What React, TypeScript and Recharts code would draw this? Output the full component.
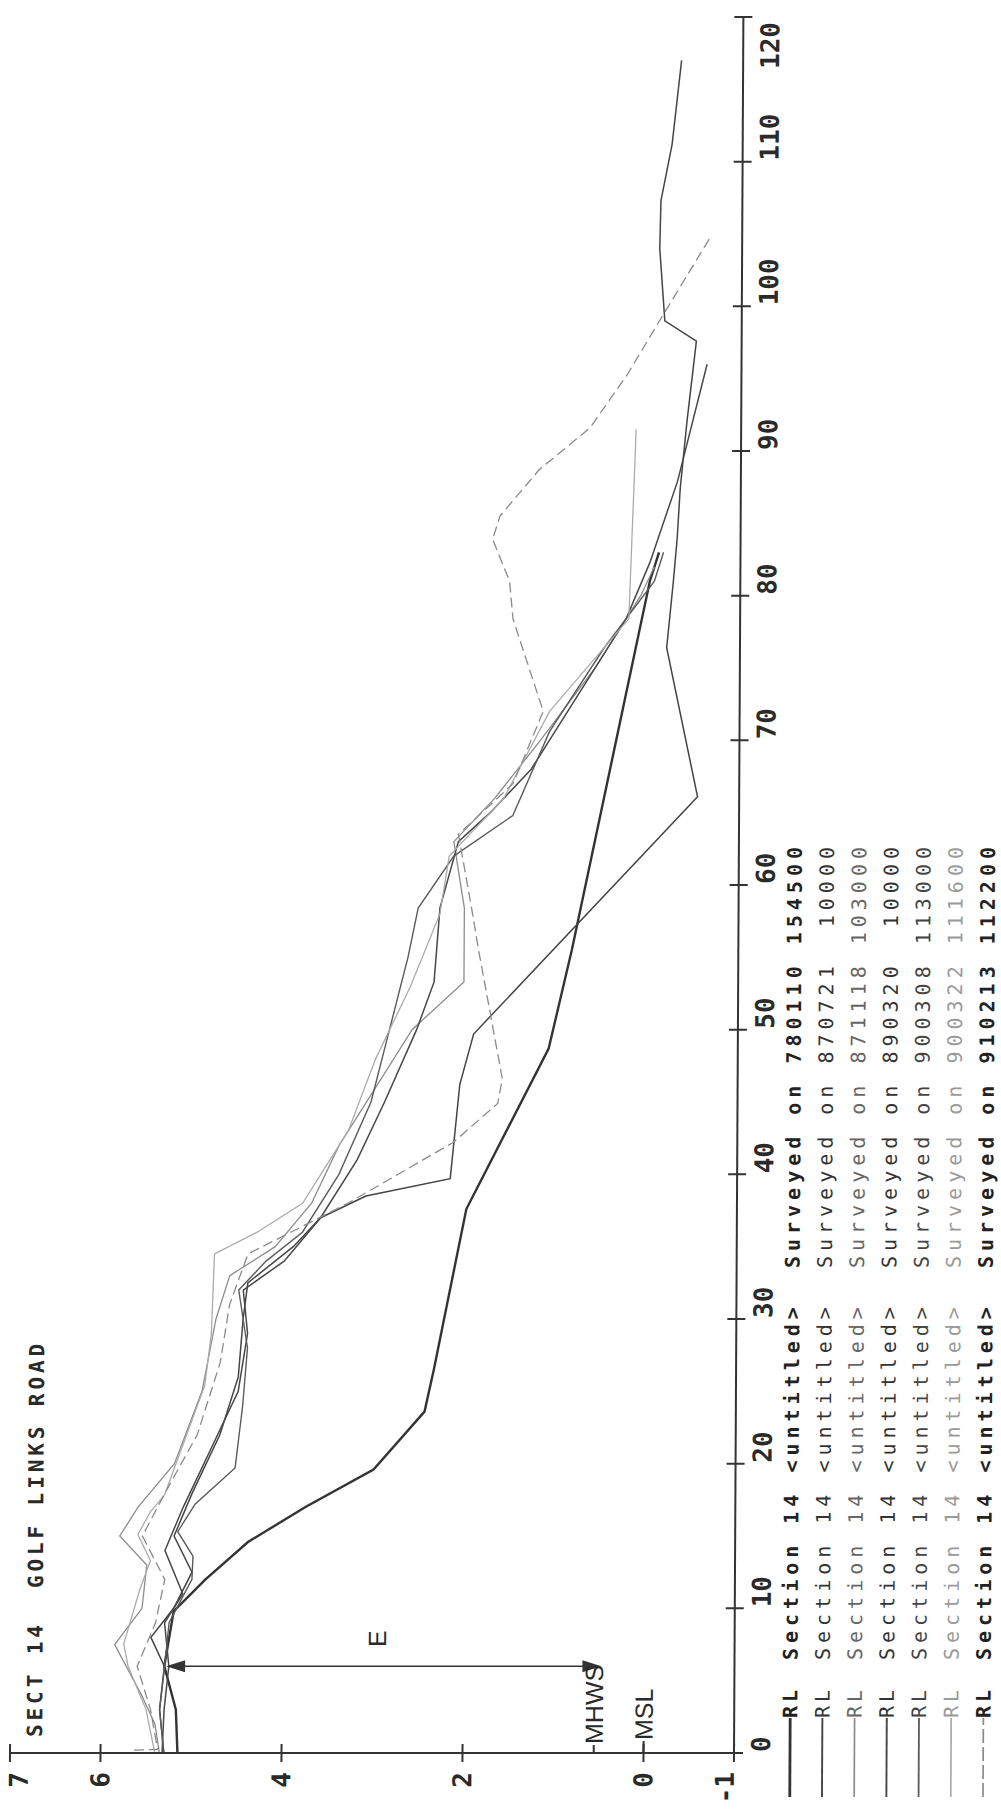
import { LineChart, Line, XAxis, YAxis, ReferenceLine, ReferenceDot } from "recharts"

// distance (m) and reduced level (m) for each survey
const s780110 = [
  [0, 5.15], [3, 5.17], [6, 5.3], [9.8, 5.2], [12, 4.85], [14.6, 4.38], [17, 3.75], [19.6, 3.0],
  [23.6, 2.44], [26.5, 2.34], [37.6, 1.99], [48.7, 1.09], [55.5, 0.84], [81, 0.0], [83, -0.1],
]
const s870721 = [
  [0, 5.3], [3, 5.35], [6, 5.3], [8, 5.45], [10, 5.2], [12.5, 5.0], [15, 5.2], [18, 5.0], [22, 4.7],
  [26, 4.5], [30, 4.45], [32.5, 4.4], [35, 3.9], [37, 3.6], [38.5, 3.1], [39.7, 2.17], [46.2, 2.07],
  [49.7, 1.92], [66.1, -0.54], [76.4, -0.19], [81, -0.26], [84, -0.3], [87.4, -0.33], [92, -0.4],
  [97.6, -0.5], [99, -0.15], [104, -0.09], [107.3, -0.1], [111.2, -0.22], [117, -0.32],
]
const s871118 = [
  [0, 5.35], [2, 5.4], [4, 5.55], [7.5, 5.85], [10, 5.55], [13, 5.5], [15, 5.8], [17, 5.6], [20, 5.2],
  [25, 4.9], [30, 4.75], [33, 4.6], [35, 4.1], [38, 3.7], [42, 3.4], [46, 3.0], [50, 2.6], [53.3, 2.03],
  [58.4, 2.03], [63, 2.15], [66, 1.7], [70, 1.2], [75, 0.6], [80, 0.1], [82, -0.05],
]
const s890320 = [
  [0, 5.32], [3, 5.3], [6, 5.25], [9, 5.3], [11, 5.1], [14, 5.3], [17, 5.1], [21, 4.8], [25, 4.5],
  [29, 4.4], [32, 4.45], [34, 4.0], [37, 3.6], [41, 3.2], [45, 2.9], [50, 2.55], [53.3, 2.36], [58.4, 2.3],
  [63, 2.1], [65, 1.75], [68, 1.3], [72, 0.9], [78.4, 0.26], [82.3, 0.0], [87.9, -0.3], [96, -0.62],
]
const s900308 = [
  [0, 5.3], [3, 5.35], [5.8, 5.3], [9, 5.25], [12, 5.0], [13.6, 4.99], [15.3, 5.16], [17.2, 4.97], [19.7, 4.53],
  [24, 4.45], [28, 4.4], [32, 4.5], [34, 4.2], [36, 3.8], [40, 3.4], [45, 3.05], [50, 2.85], [55, 2.65],
  [58.4, 2.54], [62, 2.15], [64.8, 1.5], [70.6, 1.1], [76.4, 0.5], [81, -0.05], [83, -0.15],
]
const s900322 = [
  [0, 5.4], [3, 5.5], [6, 5.7], [7.55, 5.75], [11.2, 5.58], [13.3, 5.46], [15.1, 5.6], [16.7, 5.46],
  [17.8, 5.31], [25.4, 4.87], [29, 4.8], [34.5, 4.77], [36, 4.3], [38, 3.8], [43, 3.3], [48, 3.0],
  [53, 2.62], [58, 2.3], [62, 2.2], [66, 1.6], [72, 1.1], [78.4, 0.23], [91.5, 0.16],
]
const s910213 = [
  [0.2, 5.63], [0.25, 5.37], [3, 5.45], [6, 5.6], [9, 5.4], [12, 5.3], [15, 5.55], [18, 5.3], [22, 4.95],
  [27, 4.7], [31, 4.6], [34.5, 4.4], [38, 3.3], [42.2, 2.14], [44.9, 1.65], [46.6, 1.6], [55.5, 1.87],
  [58.4, 1.95], [63.5, 2.1], [67, 1.5], [72, 1.17], [78.4, 1.51], [81, 1.55], [83.9, 1.74], [85.5, 1.66],
  [88.7, 1.23], [91.6, 0.67], [95.3, 0.26], [99.3, -0.12], [104.9, -0.66],
]

const surveyDates = ["780110", "870721", "871118", "890320", "900308", "900322", "910213"]
const surveyTimes = ["154500", " 10000", "103000", " 10000", "113000", "111600", "112200"]
const surveyPoints = [s780110, s870721, s871118, s890320, s900308, s900322, s910213]

const distTicks = [0, 10, 20, 30, 40, 50, 60, 70, 80, 90, 100, 110, 120]
const rlTicks = [-1, 0, 2, 4, 6, 7]
const rlInnerTicks = [0, 2, 4, 6]

const styles = [
  { stroke: "#333", width: 2.4, dash: undefined, text: "#222", bold: true },
  { stroke: "#444", width: 1.5, dash: undefined, text: "#333", bold: false },
  { stroke: "#8c8c8c", width: 1.3, dash: undefined, text: "#666", bold: false },
  { stroke: "#474747", width: 1.5, dash: undefined, text: "#333", bold: false },
  { stroke: "#5a5a5a", width: 1.4, dash: undefined, text: "#444", bold: false },
  { stroke: "#ababab", width: 1.3, dash: undefined, text: "#9a9a9a", bold: false },
  { stroke: "#8a8a8a", width: 1.3, dash: "10 5", text: "#222", bold: true },
]

const MONO = "'DejaVu Sans Mono', monospace"
const SANS = "'Liberation Sans', Arial, sans-serif"
const AXIS = "#333"
const INK = "#2a2a2a"

const series = surveyPoints.map((pts) => pts.map(([d, rl]) => ({ d, rl })))

// chart is drawn the usual way round, then turned a quarter turn anticlockwise
const W = 1820
const H = 1001

const BottomTick = ({ x, y, payload }: any) => {
  const last = payload.value === 120
  return (
    <g>
      <line x1={x} y1={y - 9} x2={x} y2={y + 9} stroke={AXIS} strokeWidth={2} />
      <text
        x={last ? x - 5 : x + 1}
        y={y + 27}
        textAnchor={last ? "end" : "start"}
        dominantBaseline="central"
        fontFamily={MONO}
        fontSize={26}
        fontWeight="bold"
        fill={INK}
      >
        {payload.value}
      </text>
    </g>
  )
}

const TopTick = ({ x, y }: any) => (
  <line x1={x} y1={y - 9} x2={x} y2={y + 9} stroke={AXIS} strokeWidth={2} />
)

const LeftTick = ({ x, y, payload }: any) => {
  const shift = payload.value === 7 ? 9 : payload.value === -1 ? -9 : 0
  return (
    <g>
      <line x1={x - 9} y1={y} x2={x + 9} y2={y} stroke={AXIS} strokeWidth={2} />
      <text x={x - 19} y={y + shift} textAnchor="end" dominantBaseline="central" fontFamily={MONO} fontSize={26} fontWeight="bold" fill={INK}>
        {payload.value}
      </text>
    </g>
  )
}

const RightTick = ({ x, y }: any) => (
  <line x1={x - 9} y1={y} x2={x + 9} y2={y} stroke={AXIS} strokeWidth={2} />
)

const Arrow = ({ x1, y1, x2, y2 }: any) => {
  const top = Math.min(y1, y2)
  const bot = Math.max(y1, y2)
  return (
    <g>
      <line x1={x1} y1={top + 4} x2={x2} y2={bot - 4} stroke="#333" strokeWidth={1.6} />
      <polygon points={`${x1},${top} ${x1 - 6},${top + 19} ${x1 + 6},${top + 19}`} fill="#333" />
      <polygon points={`${x2},${bot} ${x2 - 6},${bot - 19} ${x2 + 6},${bot - 19}`} fill="#333" />
    </g>
  )
}

const LevelLabel = (name: string, dash: number) => ({ cx, cy }: any) => (
  <g>
    <line x1={cx} y1={cy} x2={cx + dash} y2={cy} stroke={AXIS} strokeWidth={2} />
    <text x={cx + dash + 1} y={cy} dominantBaseline="central" fontFamily={SANS} fontSize={25} fill={INK}>
      {name}
    </text>
  </g>
)

const Title = ({ cx, cy }: any) => (
  <text x={cx + 16} y={cy + 25} dominantBaseline="central" fontFamily={MONO} fontSize={21} fontWeight="bold" letterSpacing={3.9} fill={INK} style={{ whiteSpace: "pre" }}>
    {"SECT 14  GOLF LINKS ROAD"}
  </text>
)

const ELabel = ({ cx, cy }: any) => (
  <text x={cx} y={cy} textAnchor="middle" dominantBaseline="central" fontFamily={SANS} fontSize={25} fill={INK}>
    E
  </text>
)

function SurveyLegend() {
  return (
    <svg width={W} height={H} style={{ position: "absolute", left: 0, top: 0, pointerEvents: "none" }}>
      {surveyDates.map((date, i) => {
        const y = 790 + 32.2 * i
        const st = styles[i]
        const weight = st.bold ? "bold" : "normal"
        return (
          <g key={date}>
            <line x1={23} y1={y} x2={102} y2={y} stroke={st.stroke} strokeWidth={st.width + 0.4} strokeDasharray={st.dash ? "14 4" : undefined} />
            <text x={102} y={y} dominantBaseline="central" fontFamily={MONO} fontSize={20} fontWeight={weight} letterSpacing={4} fill={st.text} style={{ whiteSpace: "pre" }}>
              RL
            </text>
            <text x={160} y={y} dominantBaseline="central" fontFamily={MONO} fontSize={20} fontWeight={weight} letterSpacing={5} fill={st.text} style={{ whiteSpace: "pre" }}>
              {`Section 14 <untitled>  Surveyed on ${date} ${surveyTimes[i]}`}
            </text>
          </g>
        )
      })}
    </svg>
  )
}

export default function App() {
  return (
    <div style={{ position: "absolute", left: 0, top: 0, width: 1001, height: 1820, overflow: "hidden", background: "#fff" }}>
      <div style={{ position: "absolute", left: 0, top: 0, width: 1001, height: 1820, transformOrigin: "0 1753px", transform: "skewX(-0.31deg)" }}>
        <div
          style={{
            position: "absolute",
            left: 0,
            top: 0,
            width: W,
            height: H,
            transformOrigin: "0 0",
            transform: "translate(0px, 1820px) rotate(-90deg)",
          }}
        >
          <LineChart width={W} height={H} margin={{ top: 10, right: 17, left: 0, bottom: 0 }}>
            <XAxis
              type="number"
              dataKey="d"
              domain={[0, 120]}
              ticks={distTicks}
              interval={0}
              height={267}
              tickSize={0}
              tickMargin={0}
              tickLine={false}
              tick={<BottomTick />}
              axisLine={{ stroke: AXIS, strokeWidth: 2 }}
              allowDataOverflow
            />
            <XAxis
              xAxisId="top"
              orientation="top"
              type="number"
              dataKey="d"
              domain={[0, 120]}
              ticks={distTicks}
              interval={0}
              height={0}
              tickSize={0}
              tickMargin={0}
              tickLine={false}
              tick={<TopTick />}
              axisLine={{ stroke: AXIS, strokeWidth: 2 }}
              allowDataOverflow
            />
            <YAxis
              type="number"
              domain={[-1, 7]}
              ticks={rlTicks}
              interval={0}
              width={67}
              tickSize={0}
              tickMargin={0}
              tickLine={false}
              tick={<LeftTick />}
              axisLine={{ stroke: AXIS, strokeWidth: 2 }}
              allowDataOverflow
            />
            <YAxis
              yAxisId="right"
              orientation="right"
              type="number"
              domain={[-1, 7]}
              ticks={rlInnerTicks}
              interval={0}
              width={0}
              tickSize={0}
              tickMargin={0}
              tickLine={false}
              tick={<RightTick />}
              axisLine={{ stroke: AXIS, strokeWidth: 2 }}
              allowDataOverflow
            />
            {series.map((data, i) => (
              <Line
                key={surveyDates[i]}
                data={data}
                dataKey="rl"
                type="linear"
                stroke={styles[i].stroke}
                strokeWidth={styles[i].width}
                strokeDasharray={styles[i].dash}
                dot={false}
                activeDot={false}
                isAnimationActive={false}
              />
            ))}
            <ReferenceLine segment={[{ x: 6, y: 5.28 }, { x: 6, y: 0.47 }]} shape={<Arrow />} />
            <ReferenceDot x={0} y={0.55} r={0} shape={LevelLabel("MHWS", 8)} />
            <ReferenceDot x={0} y={0} r={0} shape={LevelLabel("MSL", 12)} />
            <ReferenceDot x={7.9} y={2.95} r={0} shape={<ELabel />} />
            <ReferenceDot x={0} y={7} r={0} shape={<Title />} />
          </LineChart>
          <SurveyLegend />
        </div>
      </div>
    </div>
  )
}
